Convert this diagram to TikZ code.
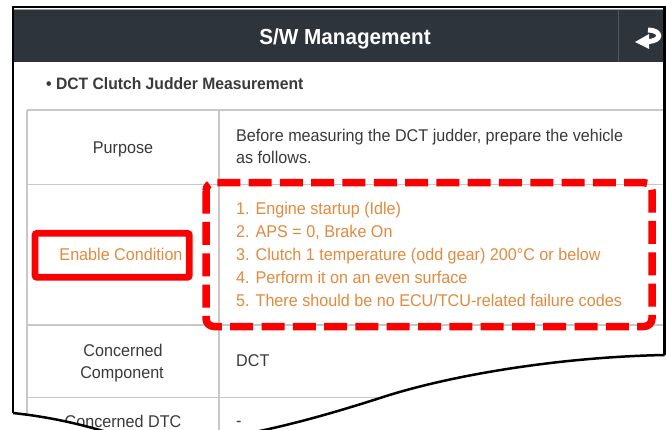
\documentclass[tikz,border=0pt]{standalone}
\usepackage{fontspec}
\setmainfont{Liberation Sans}[FakeStretch=0.95]
\definecolor{hdrbg}{RGB}{45,52,60}
\definecolor{hdrsep}{RGB}{78,86,95}
\definecolor{hdrtop}{RGB}{150,155,160}
\definecolor{txtgray}{RGB}{58,58,58}
\definecolor{condorange}{RGB}{226,138,62}
\definecolor{gridgray}{RGB}{200,200,200}
\definecolor{markred}{RGB}{250,0,0}
\begin{document}
\begin{tikzpicture}[x=1pt,y=-1pt,
  bodytext/.style={font=\fontsize{17}{20}\selectfont, text=txtgray, inner sep=0pt, anchor=base west},
  labeltext/.style={bodytext, anchor=base},
  condtext/.style={bodytext, text=condorange},
  titletext/.style={font=\fontsize{21.8}{24}\selectfont\bfseries, text=white, inner sep=0pt, anchor=base},
  subtitletext/.style={font=\fontsize{16.5}{20}\selectfont\bfseries, text=txtgray, inner sep=0pt, anchor=base west},
  gridline/.style={draw=gridgray, line width=1.5pt},
  framepen/.style={draw=black, line width=2.5pt},
  solidmark/.style={draw=markred, line width=6.7pt, rounded corners=2pt},
  dashmark/.style={draw=markred, line width=7.5pt, rounded corners=8pt, dash pattern=on 23pt off 8.3pt}]
\useasboundingbox (0,0) rectangle (666,430);
\fill[white] (0,0) rectangle (666,430);

% header bar
\fill[hdrbg] (13,9) rectangle (664,62);
\draw[hdrtop, line width=1pt] (13,9.5) -- (664,9.5);
\draw[hdrsep, line width=1pt] (618.5,10) -- (618.5,62);
\node[titletext] (title) at (345,45) {S/W Management};

% back icon
\draw[white, line width=5pt] (648,30) .. controls (662,30) and (663,41.5) .. (647,41.5);
\fill[white] (635,42) -- (649,34) -- (649,49) -- cycle;

% subtitle
\node[subtitletext] (subtitle) at (46,90) {\textbullet\ DCT Clutch Judder Measurement};

% table rules
\draw[gridline] (27,110) -- (664,110);
\draw[gridline] (27,184.5) -- (664,184.5);
\draw[gridline] (27,325) -- (664,325);
\draw[gridline] (27,397.5) -- (664,397.5);
\draw[gridline] (27,110) -- (27,430);
\draw[gridline] (219,110) -- (219,430);

% row: purpose
\node[labeltext] (purpose) at (123,154) {Purpose};
\node[bodytext] (purpose1) at (236,142) {Before measuring the DCT judder, prepare the vehicle};
\node[bodytext] (purpose2) at (236,164) {as follows.};

% row: enable condition
\node[condtext, anchor=base] (enable) at (121,260) {Enable Condition};
\node[condtext] (cond1) at (236,215) {1. Engine startup (Idle)};
\node[condtext] (cond2) at (236,237.75) {2. APS = 0, Brake On};
\node[condtext] (cond3) at (236,260.5) {3. Clutch 1 temperature (odd gear) 200°C or below};
\node[condtext] (cond4) at (236,283.25) {4. Perform it on an even surface};
\node[condtext] (cond5) at (236,306) {5. There should be no ECU/TCU-related failure codes};

% row: concerned component
\node[labeltext] (comp1) at (123,356.5) {Concerned};
\node[labeltext] (comp2) at (122,378) {Component};
\node[bodytext] (dct) at (236,366.5) {DCT};

% row: concerned DTC
\node[labeltext] (dtc) at (123,427) {Concerned DTC};
\node[bodytext] (dash) at (236,426) {-};

% highlight marks
\draw[solidmark] (35,233.3) rectangle (189.3,277.3);
\draw[dashmark] (206,182.7) rectangle (652,326.5);

% torn lower edge
\fill[white] (664.5,355) .. controls (560,357) and (450,375) .. (380,398)
  .. controls (330,414) and (290,425) .. (250,433) -- (666,433) -- (666,355) -- cycle;
\fill[white] (13,413) .. controls (50,417) and (80,424) .. (110,433) -- (0,433) -- (0,413) -- cycle;

% frame
\draw[framepen] (13,413) -- (13,7) -- (664.5,7) -- (664.5,355);
\draw[framepen] (664.5,355) .. controls (560,357) and (450,375) .. (380,398)
  .. controls (330,414) and (290,425) .. (250,433);
\draw[framepen] (13,413) .. controls (50,417) and (80,424) .. (110,433);
\end{tikzpicture}
\end{document}
